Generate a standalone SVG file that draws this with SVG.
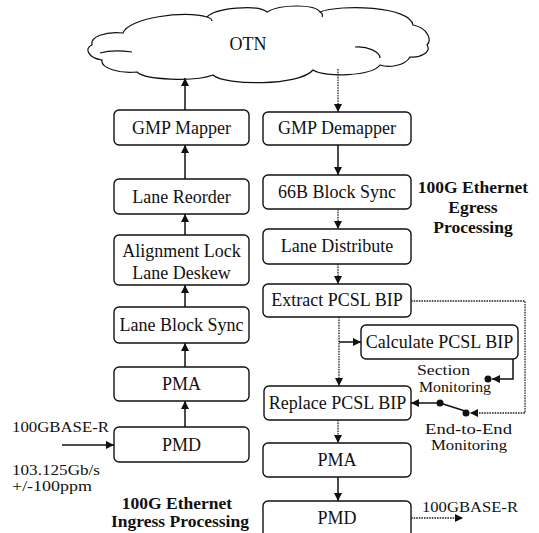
<svg xmlns="http://www.w3.org/2000/svg" width="539" height="533" viewBox="0 0 539 533">
<defs>
<style>
.box{fill:#fff;stroke:#111;stroke-width:1.4}
.lbl{font-family:"Liberation Serif","DejaVu Serif",serif;font-size:18px;fill:#111;text-anchor:middle}
.sm{font-family:"Liberation Serif","DejaVu Serif",serif;font-size:15px;fill:#111}
.hd{font-family:"Liberation Serif","DejaVu Serif",serif;font-size:17.5px;font-weight:bold;fill:#111;text-anchor:middle}
.ln{fill:none;stroke:#111;stroke-width:1.5}
.dl{fill:none;stroke:#222;stroke-width:1.3;stroke-dasharray:1.6 1}
.cl{fill:#fff;stroke:#111;stroke-width:1.2}
</style>
<marker id="ah" viewBox="0 0 10 10" refX="10" refY="5" markerWidth="9" markerHeight="8" markerUnits="userSpaceOnUse" orient="auto">
<path d="M0,0 L10,5 L0,10 z" fill="#111"/>
</marker>
</defs>
<rect width="539" height="533" fill="#fff"/>

<g id="cloud">
<path class="cl" d="M92,45 C90,37 105,31 123,33 C128,18 185,10 207,17 C215,8 258,4 267,12 C280,4 315,4 320,12 C340,4 410,6 413,25 C428,28 432,40 427,45 C432,52 420,58 410,57 C405,66 388,68 380,65 C372,76 325,78 313,70 C300,86 225,86 213,75 C195,82 145,80 137,72 C120,74 100,68 102,60 C88,58 84,48 92,45 Z"/>
<path class="cl" fill="none" d="M100,53 C110,50 125,51 132,52 M355,47 C368,46 380,52 380,58 M207,17 C210,18 212,19 212,21 M320,12 C322,13 323,15 322,17"/>
<text class="lbl" x="248" y="50">OTN</text>
</g>

<g id="gmp-mapper"><rect class="box" x="114" y="110" width="135" height="35" rx="5"/><text class="lbl" x="181.5" y="134">GMP Mapper</text></g>
<g id="lane-reorder"><rect class="box" x="114" y="179" width="135" height="35" rx="5"/><text class="lbl" x="181.5" y="203">Lane Reorder</text></g>
<g id="alignment"><rect class="box" x="114" y="235" width="135" height="50" rx="5"/><text class="lbl" x="181.5" y="257">Alignment Lock</text><text class="lbl" x="181.5" y="279">Lane Deskew</text></g>
<g id="lane-block-sync"><rect class="box" x="114" y="307" width="135" height="36" rx="5"/><text class="lbl" x="181.5" y="331">Lane Block Sync</text></g>
<g id="pma-in"><rect class="box" x="114" y="367" width="135" height="34" rx="5"/><text class="lbl" x="181.5" y="390">PMA</text></g>
<g id="pmd-in"><rect class="box" x="114" y="427" width="135" height="35" rx="5"/><text class="lbl" x="181.5" y="451">PMD</text></g>

<g id="gmp-demapper"><rect class="box" x="263" y="112" width="148" height="33" rx="5"/><text class="lbl" x="337" y="134">GMP Demapper</text></g>
<g id="block-sync-66b"><rect class="box" x="263" y="175" width="148" height="34" rx="5"/><text class="lbl" x="337" y="198">66B Block Sync</text></g>
<g id="lane-distribute"><rect class="box" x="263" y="229" width="148" height="35" rx="5"/><text class="lbl" x="337" y="252">Lane Distribute</text></g>
<g id="extract-bip"><rect class="box" x="263" y="284" width="148" height="33" rx="5"/><text class="lbl" x="337" y="306">Extract PCSL BIP</text></g>
<g id="calculate-bip"><rect class="box" x="361" y="325" width="157" height="34" rx="5"/><text class="lbl" x="439.5" y="348">Calculate PCSL BIP</text></g>
<g id="replace-bip"><rect class="box" x="264" y="386" width="147" height="34" rx="5"/><text class="lbl" x="337.5" y="409">Replace PCSL BIP</text></g>
<g id="pma-out"><rect class="box" x="263" y="443" width="148" height="34" rx="5"/><text class="lbl" x="337" y="466">PMA</text></g>
<g id="pmd-out"><rect class="box" x="263" y="501" width="148" height="45" rx="5"/><text class="lbl" x="337" y="524">PMD</text></g>

<g id="connectors">
<path class="ln" d="M185,110 V78" marker-end="url(#ah)"/>
<path class="ln" d="M185,179 V145" marker-end="url(#ah)"/>
<path class="ln" d="M185,235 V214" marker-end="url(#ah)"/>
<path class="ln" d="M185,307 V285" marker-end="url(#ah)"/>
<path class="ln" d="M185,367 V343" marker-end="url(#ah)"/>
<path class="ln" d="M185,427 V401" marker-end="url(#ah)"/>
<path class="ln" d="M62,445 H114" marker-end="url(#ah)"/>

<path class="dl" d="M338,69 V112" marker-end="url(#ah)"/>
<path class="ln" d="M338,145 V175" marker-end="url(#ah)"/>
<path class="dl" d="M338,209 V229" marker-end="url(#ah)"/>
<path class="dl" d="M338,264 V284" marker-end="url(#ah)"/>
<path class="dl" d="M339,317 V386" marker-end="url(#ah)"/>
<path class="ln" d="M339,342 H361" marker-end="url(#ah)"/>
<path class="dl" d="M338,420 V443" marker-end="url(#ah)"/>
<path class="ln" d="M338,477 V501" marker-end="url(#ah)"/>
<path class="dl" d="M411,518 H463" marker-end="url(#ah)"/>

<path class="dl" d="M411,301 H525 V413 H470" marker-end="url(#ah)"/>
<path class="ln" d="M513,359 V379 H492" marker-end="url(#ah)"/>
<path class="ln" d="M440,403 L465,411"/>
<path class="ln" d="M440,403 H411" marker-end="url(#ah)"/>
<circle cx="488" cy="379" r="3.5" fill="#111"/>
<circle cx="466" cy="413" r="3.5" fill="#111"/>
<circle cx="440" cy="403" r="3.5" fill="#111"/>
</g>

<g id="labels">
<text class="sm" x="417" y="375" textLength="53" lengthAdjust="spacingAndGlyphs">Section</text>
<text class="sm" x="419" y="392" textLength="72" lengthAdjust="spacingAndGlyphs">Monitoring</text>
<text class="sm" x="425" y="434" textLength="87" lengthAdjust="spacingAndGlyphs">End-to-End</text>
<text class="sm" x="431" y="450" textLength="76" lengthAdjust="spacingAndGlyphs">Monitoring</text>
<text class="sm" x="12" y="432" textLength="97" lengthAdjust="spacingAndGlyphs">100GBASE-R</text>
<text class="sm" x="12" y="475" textLength="88" lengthAdjust="spacingAndGlyphs">103.125Gb/s</text>
<text class="sm" x="12" y="491" textLength="80" lengthAdjust="spacingAndGlyphs">+/-100ppm</text>
<text class="sm" x="422" y="512" textLength="96" lengthAdjust="spacingAndGlyphs">100GBASE-R</text>
<text class="hd" x="177" y="509">100G Ethernet</text>
<text class="hd" x="180" y="527">Ingress Processing</text>
<text class="hd" x="473" y="193">100G Ethernet</text>
<text class="hd" x="473" y="213">Egress</text>
<text class="hd" x="473" y="233">Processing</text>
</g>
</svg>
